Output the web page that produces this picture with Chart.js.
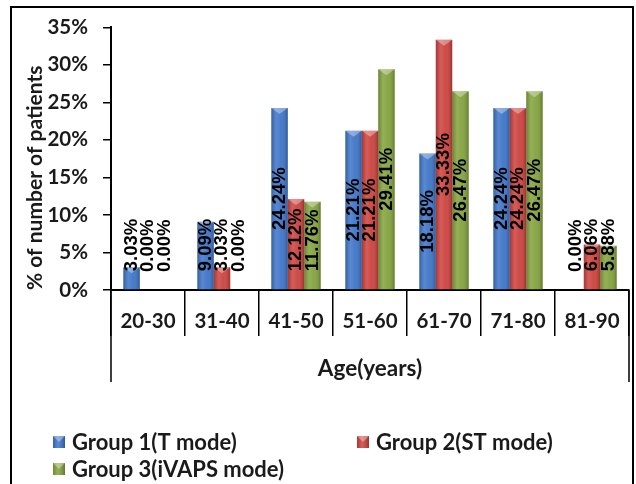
<!DOCTYPE html>
<html>
<head>
<meta charset="utf-8">
<script src="https://cdn.jsdelivr.net/npm/chart.js@4.4.1/dist/chart.umd.min.js"></script>
<style>
  html, body { margin: 0; padding: 0; background: #fff; }
  #wrap { width: 636px; height: 484px; position: relative; }
</style>
</head>
<body>
<div id="wrap"><canvas id="chart" width="636" height="484"></canvas></div>
<script>
// data
const categories = ["20-30", "31-40", "41-50", "51-60", "61-70", "71-80", "81-90"];
const group1 = [3.03, 9.09, 24.24, 21.21, 18.18, 24.24, 0.00];
const group2 = [0.00, 3.03, 12.12, 21.21, 33.33, 24.24, 6.06];
const group3 = [0.00, 0.00, 11.76, 29.41, 26.47, 26.47, 5.88];
const seriesNames = ["Group 1(T mode)", "Group 2(ST mode)", "Group 3(iVAPS mode)"];
const yTicks = [0, 5, 10, 15, 20, 25, 30, 35];

const colors = ["#3D74C8", "#CC413D", "#82A23C"];
const textColor = "#1a1a1a";
const uiFont = "Lato";

// outer frame of the figure
const framePlugin = {
  id: "frame",
  beforeDraw(chart) {
    const ctx = chart.ctx;
    ctx.save();
    ctx.fillStyle = "#fff";
    ctx.fillRect(0, 0, chart.width, chart.height);
    ctx.strokeStyle = "#000";
    ctx.lineWidth = 2;
    ctx.strokeRect(11, 7, 622, 520);
    ctx.restore();
  }
};

// excel-like shading on the bars
const shadePlugin = {
  id: "shade",
  afterDatasetsDraw(chart) {
    const ctx = chart.ctx;
    ctx.save();
    chart.data.datasets.forEach((ds, i) => {
      chart.getDatasetMeta(i).data.forEach((el) => {
        const { x, y, base, width } = el.getProps(["x", "y", "base", "width"], true);
        if (Math.abs(base - y) < 0.5) return;
        const l = x - width / 2, r = x + width / 2;
        const g = ctx.createLinearGradient(l, 0, r, 0);
        g.addColorStop(0, "rgba(0,0,0,0.18)");
        g.addColorStop(0.3, "rgba(255,255,255,0.15)");
        g.addColorStop(0.6, "rgba(255,255,255,0.05)");
        g.addColorStop(1, "rgba(0,0,0,0.25)");
        ctx.fillStyle = g;
        ctx.fillRect(l, y, width, base - y);
        // small bevel on top
        ctx.fillStyle = "rgba(255,255,255,0.35)";
        ctx.beginPath();
        ctx.moveTo(l, y);
        ctx.lineTo(r, y);
        ctx.lineTo(x, y + Math.min(6, base - y));
        ctx.closePath();
        ctx.fill();
      });
    });
    ctx.restore();
  }
};

// rotated value labels
const labelPlugin = {
  id: "valueLabels",
  afterDatasetsDraw(chart) {
    const ctx = chart.ctx;
    ctx.save();
    ctx.font = "bold 18.5px 'Liberation Sans', Arial, sans-serif";
    ctx.fillStyle = "#000";
    ctx.textAlign = "center";
    ctx.textBaseline = "middle";
    chart.data.datasets.forEach((ds, i) => {
      chart.getDatasetMeta(i).data.forEach((el, j) => {
        const { x, y, base } = el.getProps(["x", "y", "base"], true);
        const txt = ds.data[j].toFixed(2) + "%";
        const w = ctx.measureText(txt).width;
        const cy = Math.min((y + base) / 2, base - 18 - w / 2);
        ctx.save();
        ctx.translate(x, cy);
        ctx.rotate(-Math.PI / 2);
        ctx.fillText(txt, 0, 0);
        ctx.restore();
      });
    });
    ctx.restore();
  }
};

// outer lines of the category axis box
const axisBoxPlugin = {
  id: "axisBox",
  afterDraw(chart) {
    const ctx = chart.ctx;
    const area = chart.chartArea;
    const xs = chart.scales.x;
    ctx.save();
    ctx.strokeStyle = "#000";
    ctx.lineWidth = 1.5;
    ctx.beginPath();
    ctx.moveTo(area.left, area.bottom);
    ctx.lineTo(area.left, xs.bottom);
    ctx.moveTo(area.right, area.bottom);
    ctx.lineTo(area.right, xs.bottom);
    ctx.stroke();
    ctx.restore();
  }
};

// legend laid out like the original (two columns)
const legendPlugin = {
  id: "boxLegend",
  afterDraw(chart) {
    const ctx = chart.ctx;
    const spots = [[53, 442], [357, 442], [53, 469]];
    ctx.save();
    ctx.font = "bold 22px " + uiFont;
    ctx.textBaseline = "middle";
    ctx.textAlign = "left";
    seriesNames.forEach((name, i) => {
      const [lx, ly] = spots[i];
      ctx.fillStyle = colors[i];
      ctx.fillRect(lx, ly - 6, 12, 12);
      const g = ctx.createLinearGradient(lx, 0, lx + 12, 0);
      g.addColorStop(0, "rgba(0,0,0,0.15)");
      g.addColorStop(0.4, "rgba(255,255,255,0.15)");
      g.addColorStop(1, "rgba(0,0,0,0.25)");
      ctx.fillStyle = g;
      ctx.fillRect(lx, ly - 6, 12, 12);
      ctx.fillStyle = "rgba(255,255,255,0.35)";
      ctx.beginPath();
      ctx.moveTo(lx, ly - 6);
      ctx.lineTo(lx + 12, ly - 6);
      ctx.lineTo(lx + 6, ly);
      ctx.closePath();
      ctx.fill();
      ctx.fillStyle = textColor;
      ctx.fillText(name, lx + 19, ly + 1);
    });
    ctx.restore();
  }
};

const ctx = document.getElementById("chart").getContext("2d");
new Chart(ctx, {
  type: "bar",
  data: {
    labels: categories,
    datasets: [
      { label: seriesNames[0], data: group1, backgroundColor: colors[0] },
      { label: seriesNames[1], data: group2, backgroundColor: colors[1] },
      { label: seriesNames[2], data: group3, backgroundColor: colors[2] }
    ]
  },
  options: {
    responsive: false,
    animation: false,
    devicePixelRatio: 1,
    categoryPercentage: 0.667,
    barPercentage: 1.0,
    layout: { padding: { left: 11, right: 7, top: 24, bottom: 102 } },
    plugins: {
      legend: { display: false },
      tooltip: { enabled: false }
    },
    scales: {
      x: {
        grid: {
          offset: true,
          drawOnChartArea: false,
          drawTicks: true,
          tickLength: 46,
          color: "#000",
          lineWidth: 1.5
        },
        border: { color: "#000", width: 2 },
        ticks: {
          color: textColor,
          font: { family: uiFont, weight: "bold", size: 20.5 },
          padding: -27,
          maxRotation: 0,
          autoSkip: false
        },
        title: {
          display: true,
          text: "Age(years)",
          color: textColor,
          font: { family: uiFont, weight: "bold", size: 22.5 },
          padding: { top: 0, bottom: 0 }
        },
        afterFit: (s) => { s.height = 92; }
      },
      y: {
        min: yTicks[0],
        max: yTicks[yTicks.length - 1],
        ticks: {
          stepSize: yTicks[1] - yTicks[0],
          callback: (v) => v + "%",
          color: textColor,
          font: { family: uiFont, weight: "bold", size: 20.5 },
          padding: 15
        },
        grid: {
          drawOnChartArea: false,
          drawTicks: true,
          tickLength: 8,
          color: "#000",
          lineWidth: 1.5
        },
        border: { color: "#000", width: 2 },
        title: {
          display: true,
          text: "% of number of patients",
          align: "start",
          color: textColor,
          font: { family: uiFont, weight: "bold", size: 21 },
          padding: { top: 12, bottom: 0 }
        },
        afterFit: (s) => { s.width = 100; }
      }
    }
  },
  plugins: [framePlugin, shadePlugin, labelPlugin, axisBoxPlugin, legendPlugin]
});
</script>
</body>
</html>
